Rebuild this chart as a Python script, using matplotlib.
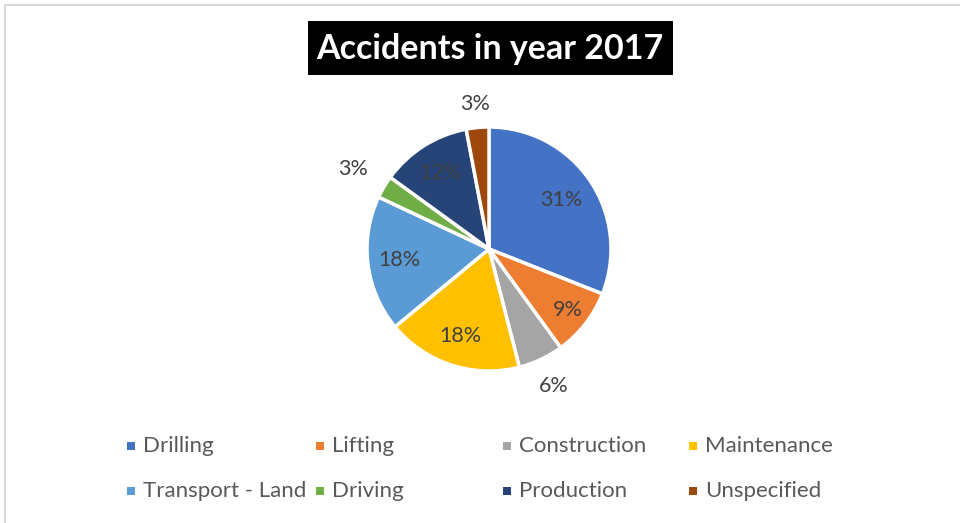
import numpy as np
import matplotlib.pyplot as plt
from matplotlib.patches import Rectangle

# ── data ──────────────────────────────────────────────────────────────────────
categories = ["Drilling", "Lifting", "Construction", "Maintenance",
              "Transport - Land", "Driving", "Production", "Unspecified"]
shares = [31, 9, 6, 18, 18, 3, 12, 3]
colors = ["#4472C4", "#ED7D31", "#A5A5A5", "#FFC000",
          "#5B9BD5", "#70AD47", "#264478", "#9E480E"]
# label distance (fraction of radius) - small slices get outside labels
label_dist = [0.72, 0.82, 1.24, 0.75, 0.74, 1.29, 0.74, 1.19]

plt.rcParams["font.family"] = ["Lato", "DejaVu Sans"]

W, H = 960, 523
fig = plt.figure(figsize=(W / 100, H / 100), dpi=100)
fig.patch.set_facecolor("white")

def px_rect(x0, y0, x1, y1, **kw):
    # rectangle in pixel coords (y from top)
    return Rectangle((x0 / W, 1 - y1 / H), (x1 - x0) / W, (y1 - y0) / H,
                     transform=fig.transFigure, **kw)

# chart border (light grey, runs off the right/bottom edge)
fig.patches.append(px_rect(5, 5, 1000, 560, fill=False, edgecolor="#D9D9D9", lw=1.5))

# ── pie ───────────────────────────────────────────────────────────────────────
cx, cy, r = 489, 249, 122
ax = fig.add_axes([(cx - r) / W, (H - cy - r) / H, 2 * r / W, 2 * r / H])
wedges, _ = ax.pie(shares, colors=colors, startangle=90, counterclock=False,
                   radius=1, wedgeprops=dict(edgecolor="white", linewidth=2.5))
for w, v, d in zip(wedges, shares, label_dist):
    ang = np.deg2rad((w.theta1 + w.theta2) / 2)
    ax.text(d * np.cos(ang), d * np.sin(ang), f"{v}%", ha="center", va="center",
            fontsize=15.5, color="#404040")
ax.set_xlim(-1, 1); ax.set_ylim(-1, 1)
ax.set_aspect("equal")
ax.axis("off")

# ── title ─────────────────────────────────────────────────────────────────────
fig.patches.append(px_rect(308, 21, 673, 75, facecolor="black", edgecolor="none"))
fig.text(490 / W, 1 - 49 / H, "Accidents in year 2017", ha="center", va="center",
         fontsize=24.5, fontweight="bold", color="white")

# ── legend (two rows of four, Excel-style spacing) ───────────────────────────
col_x = [127, 316, 503, 689]
row_y = [446, 491]
for i, (name, c) in enumerate(zip(categories, colors)):
    x = col_x[i % 4]; y = row_y[i // 4]
    fig.patches.append(px_rect(x, y - 4, x + 8, y + 4, facecolor=c, edgecolor="none"))
    fig.text((x + 16) / W, 1 - y / H, name, ha="left", va="center",
             fontsize=16, color="#595959")

fig.savefig("out.png", dpi=100, facecolor="white")
